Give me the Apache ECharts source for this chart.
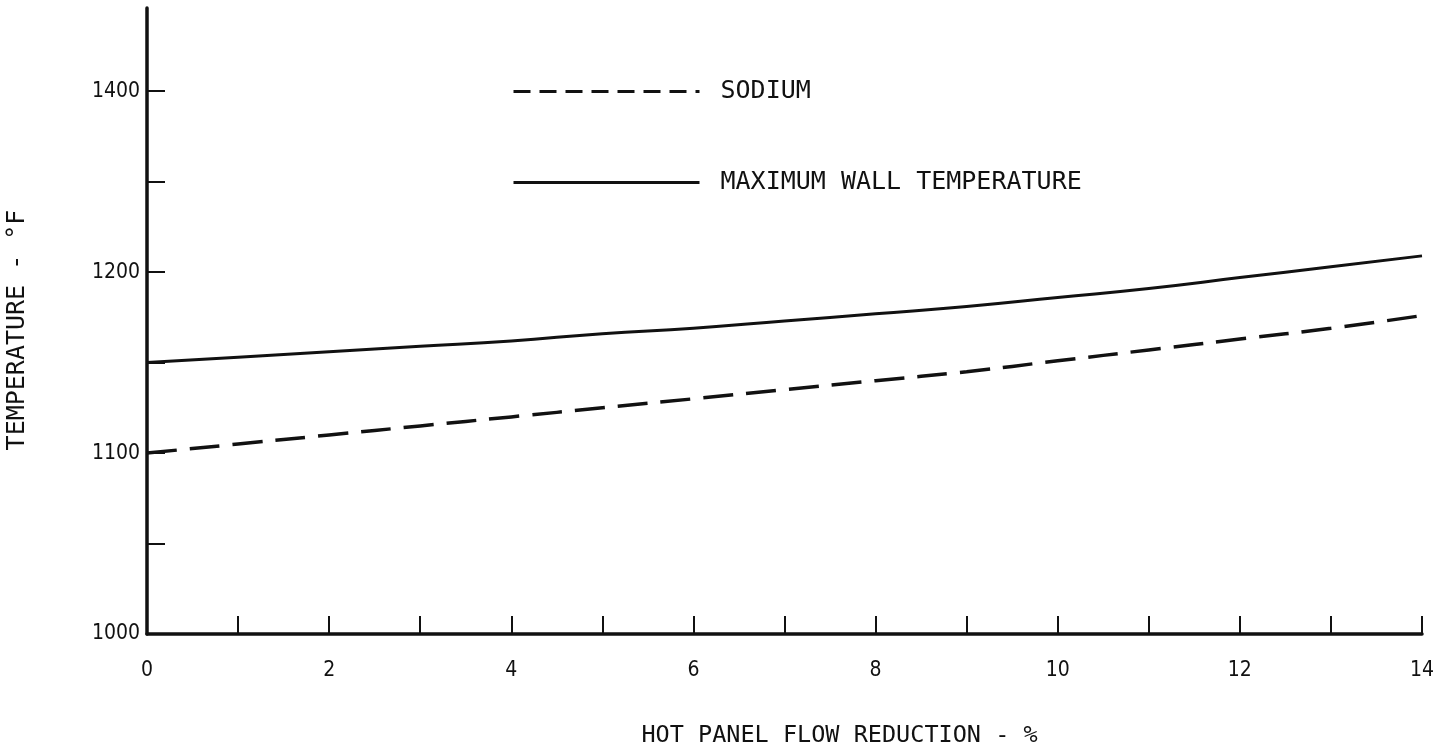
<!DOCTYPE html>
<html>
<head>
<meta charset="utf-8">
<script src="https://cdn.jsdelivr.net/npm/echarts@6/dist/echarts.min.js"></script>
<style>
html,body{margin:0;padding:0;background:#fff;}
#chart{width:1450px;height:750px;}
</style>
</head>
<body>
<div id="chart"></div>
<script>
// Data
const flowReduction = [0,1,2,3,4,5,6,7,8,9,10,11,12,13,14];
const sodiumTemp = [1100,1105,1110,1115,1120,1125,1130,1135,1140,1145,1151,1157,1163,1169,1176];
const maxWallTemp = [1150,1153,1156,1159,1162,1166,1169,1173,1177,1181,1186,1191,1197,1203,1209];
const yTickValues = [1000,1100,1200,1300];
const yTickLabels = ['1000','1100','1200','1400'];
const xTickLabels = ['0','2','4','6','8','10','12','14'];
const seriesNames = ['SODIUM','MAXIMUM WALL TEMPERATURE'];
const xAxisTitle = 'HOT PANEL FLOW REDUCTION - %';
const yAxisTitle = 'TEMPERATURE - °F';

const FONT = 'DejaVu Sans Mono';
const TICKFONT = '"DejaVu Sans Condensed", sans-serif';
const pair = (ys) => flowReduction.map((x, i) => [x, ys[i]]);

const chart = echarts.init(document.getElementById('chart'));
chart.setOption({
  animation: false,
  backgroundColor: '#ffffff',
  grid: {left: 147, right: 28, top: 8, bottom: 116, containLabel: false, outerBoundsMode: 'none'},
  legend: {
    orient: 'vertical',
    left: 507,
    top: 74,
    itemWidth: 186,
    itemHeight: 16,
    itemGap: 66,
    data: [
      {name: seriesNames[0], lineStyle: {type: [17, 9]}},
      {name: seriesNames[1], lineStyle: {type: 'solid'}}
    ],
    itemStyle: {opacity: 0},
    lineStyle: {width: 3},
    textStyle: {fontFamily: FONT, fontSize: 25, color: '#111', padding: [0,0,0,16]}
  },
  xAxis: {
    type: 'value',
    min: 0, max: 14, interval: 1,
    name: xAxisTitle,
    nameLocation: 'middle',
    nameGap: 90,
    nameTextStyle: {fontFamily: FONT, fontSize: 23.5, color: '#111', padding: [0,0,0,110]},
    axisLine: {lineStyle: {color: '#111', width: 3.5}},
    axisTick: {inside: true, length: 18, lineStyle: {color: '#111', width: 2}},
    axisLabel: {
      margin: 26, fontFamily: TICKFONT, fontSize: 21, color: '#111',
      formatter: (v) => xTickLabels.indexOf(String(v)) >= 0 ? String(v) : ''
    },
    splitLine: {show: false}
  },
  yAxis: {
    type: 'value',
    min: 1000, max: 1346, interval: 50,
    name: yAxisTitle,
    nameLocation: 'middle',
    nameGap: 117,
    nameRotate: 90,
    nameTextStyle: {fontFamily: FONT, fontSize: 25, color: '#111', padding: [0,18,0,0]},
    axisLine: {lineStyle: {color: '#111', width: 3.5}},
    axisTick: {inside: true, length: 18, lineStyle: {color: '#111', width: 2}},
    axisLabel: {
      margin: 7, fontFamily: TICKFONT, fontSize: 21, color: '#111',
      showMaxLabel: false,
      formatter: (v) => {
        const i = yTickValues.indexOf(v);
        return i >= 0 ? yTickLabels[i] : '';
      }
    },
    splitLine: {show: false}
  },
  series: [
    {
      name: seriesNames[0],
      type: 'line',
      smooth: true,
      symbol: 'none',
      data: pair(sodiumTemp),
      lineStyle: {color: '#111', width: 3.5, type: [30, 13]},
      itemStyle: {color: '#111'}
    },
    {
      name: seriesNames[1],
      type: 'line',
      smooth: true,
      symbol: 'none',
      data: pair(maxWallTemp),
      lineStyle: {color: '#111', width: 3},
      itemStyle: {color: '#111'}
    }
  ]
});
</script>
</body>
</html>
